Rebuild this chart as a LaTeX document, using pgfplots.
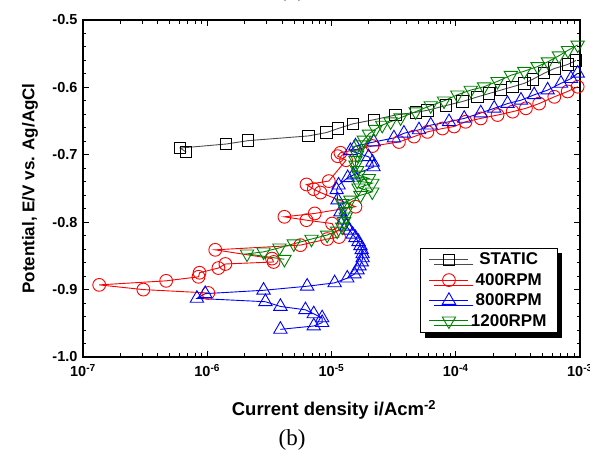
\documentclass[border=0pt]{standalone}
\usepackage{fontspec}
\setmainfont{Liberation Sans}
\newfontfamily\timesfont{Liberation Serif}
\usepackage{pgfplots}
\pgfplotsset{compat=1.18}
\usetikzlibrary{shadows}

\definecolor{myred}{RGB}{255,0,0}
\definecolor{myblue}{RGB}{0,0,255}
\definecolor{mygreen}{RGB}{0,128,0}

\pgfplotstableread{
x y
6.77e-7 -0.696
6.06e-7 -0.690
1.42e-6 -0.684
2.13e-6 -0.679
6.53e-6 -0.672
9.12e-6 -0.667
1.13e-5 -0.661
1.49e-5 -0.654
2.19e-5 -0.648
3.28e-5 -0.641
4.76e-5 -0.637
5.91e-5 -0.634
8.30e-5 -0.627
1.13e-4 -0.621
1.50e-4 -0.614
1.86e-4 -0.609
2.31e-4 -0.604
2.87e-4 -0.599
3.56e-4 -0.594
4.16e-4 -0.588
5.15e-4 -0.579
6.21e-4 -0.572
7.96e-4 -0.566
9.28e-4 -0.560
}\tstatic

\pgfplotstableread{
x y
1.02e-6 -0.905
3.06e-7 -0.900
1.35e-7 -0.893
4.67e-7 -0.887
8.51e-7 -0.881
8.67e-7 -0.875
1.23e-6 -0.868
1.40e-6 -0.862
3.42e-6 -0.859
3.32e-6 -0.854
1.16e-6 -0.841
5.62e-6 -0.834
9.23e-6 -0.825
1.15e-5 -0.822
1.01e-5 -0.802
6.29e-6 -0.797
4.18e-6 -0.792
7.33e-6 -0.787
1.56e-5 -0.777
8.15e-6 -0.756
7.20e-6 -0.751
6.29e-6 -0.744
9.51e-6 -0.739
1.31e-5 -0.708
1.12e-5 -0.702
1.18e-5 -0.697
2.14e-5 -0.687
3.49e-5 -0.681
4.61e-5 -0.673
5.91e-5 -0.666
7.81e-5 -0.661
9.69e-5 -0.658
1.20e-4 -0.651
1.59e-4 -0.646
2.17e-4 -0.641
2.87e-4 -0.636
3.67e-4 -0.631
4.69e-4 -0.624
6.21e-4 -0.614
7.96e-4 -0.606
9.58e-4 -0.599
}\tfour

\pgfplotstableread{
x y
3.88e-6 -0.959
7.20e-6 -0.954
8.41e-6 -0.949
8.41e-6 -0.942
7.20e-6 -0.936
6.17e-6 -0.930
3.88e-6 -0.925
2.94e-6 -0.918
8.26e-7 -0.913
9.63e-7 -0.906
2.84e-6 -0.901
6.37e-6 -0.895
1.06e-5 -0.890
1.34e-5 -0.883
1.53e-5 -0.877
1.62e-5 -0.871
1.68e-5 -0.865
1.75e-5 -0.859
1.78e-5 -0.853
1.78e-5 -0.847
1.75e-5 -0.841
1.71e-5 -0.835
1.65e-5 -0.829
1.56e-5 -0.823
1.48e-5 -0.818
1.40e-5 -0.812
1.32e-5 -0.806
1.25e-5 -0.797
1.18e-5 -0.785
1.12e-5 -0.767
1.10e-5 -0.752
1.14e-5 -0.745
1.35e-5 -0.734
1.50e-5 -0.730
2.18e-5 -0.718
2.14e-5 -0.711
1.99e-5 -0.703
1.42e-5 -0.694
1.56e-5 -0.687
2.19e-5 -0.681
3.18e-5 -0.675
3.83e-5 -0.668
5.06e-5 -0.663
6.29e-5 -0.656
8.83e-5 -0.651
1.17e-4 -0.646
1.59e-4 -0.638
2.04e-4 -0.631
2.61e-4 -0.624
3.35e-4 -0.619
4.28e-4 -0.611
5.49e-4 -0.604
7.03e-4 -0.594
8.46e-4 -0.587
9.58e-4 -0.579
}\teight

\pgfplotstableread{
x y
4.18e-6 -0.855
2.09e-6 -0.847
2.84e-6 -0.844
3.81e-6 -0.838
4.97e-6 -0.832
6.90e-6 -0.825
9.23e-6 -0.819
1.11e-5 -0.813
1.22e-5 -0.807
1.26e-5 -0.799
1.30e-5 -0.792
1.30e-5 -0.784
1.26e-5 -0.777
1.22e-5 -0.772
1.42e-5 -0.767
1.71e-5 -0.760
2.13e-5 -0.755
1.65e-5 -0.749
2.13e-5 -0.742
1.61e-5 -0.739
2.00e-5 -0.735
1.65e-5 -0.730
1.61e-5 -0.723
1.56e-5 -0.715
1.56e-5 -0.708
1.61e-5 -0.700
1.66e-5 -0.693
1.71e-5 -0.685
1.82e-5 -0.678
2.00e-5 -0.669
2.26e-5 -0.662
2.56e-5 -0.656
2.99e-5 -0.651
3.60e-5 -0.645
4.76e-5 -0.636
6.29e-5 -0.627
8.05e-5 -0.620
1.03e-4 -0.611
1.32e-4 -0.604
1.69e-4 -0.599
2.17e-4 -0.591
2.78e-4 -0.582
3.56e-4 -0.576
4.56e-4 -0.569
5.52e-4 -0.562
6.77e-4 -0.553
8.00e-4 -0.545
9.58e-4 -0.537
}\ttwelve

\begin{document}
\begin{tikzpicture}
\path[use as bounding box] (-83bp,-96bp) rectangle (507bp,357bp);
\begin{axis}[
  at={(0,0)}, anchor=south west,
  scale only axis, width=497bp, height=337bp,
  xmode=log, xmin=1e-7, xmax=1e-3, ymin=-1.0, ymax=-0.5,
  ytick={-1.0,-0.9,-0.8,-0.7,-0.6,-0.5},
  yticklabels={-1.0,-0.9,-0.8,-0.7,-0.6,-0.5},
  minor y tick num=4,
  xtick={1e-7,1e-6,1e-5,1e-4,1e-3},
  xticklabels={10\textsuperscript{-7},10\textsuperscript{-6},10\textsuperscript{-5},10\textsuperscript{-4},10\textsuperscript{-3}},
  tick align=inside,
  major tick length=6bp, minor tick length=3.5bp,
  axis line style={line width=1.3bp},
  every tick/.style={black, line width=1bp},
  ticklabel style={font=\bfseries\fontsize{14.5bp}{16bp}\selectfont},
  xticklabel style={yshift=-4bp},
  yticklabel style={xshift=-2bp},
  clip=true,
  legend cell align=center,
  legend style={at={(0.9557,0.0712)}, anchor=south east, draw=black, line width=1bp,
    fill=white, drop shadow={shadow xshift=5bp, shadow yshift=-5bp, fill=black, opacity=1},
    font=\bfseries\fontsize{17bp}{19bp}\selectfont, row sep=0bp,
    inner xsep=9bp, inner ysep=1.5bp,
    nodes={inner ysep=3.5bp},
    /tikz/every even column/.append style={column sep=5bp}},
  legend image code/.code={\draw[mark repeat=2,mark phase=2] plot coordinates {(0bp,0bp) (19.5bp,0bp) (39bp,0bp)};},
]
\addplot[black!70, line width=0.9bp, mark=square, mark size=5.7bp, mark options={draw=black, fill=white, line width=0.9bp, solid}] table {\tstatic};
\addlegendentry{STATIC}
\addplot[myred, line width=0.9bp, mark=o, mark size=6.4bp, mark options={fill=white, line width=0.9bp, solid}] table {\tfour};
\addlegendentry{400RPM}
\addplot[myblue, line width=0.9bp, mark=triangle, mark size=7.7bp, mark options={fill=white, line width=0.9bp, solid}] table {\teight};
\addlegendentry{800RPM}
\addplot[mygreen, line width=0.9bp, mark=triangle, mark size=7.7bp, mark options={rotate=180, fill=white, line width=0.9bp, solid}] table {\ttwelve};
\addlegendentry{1200RPM}
\end{axis}
\node[font=\bfseries\fontsize{18.5bp}{20bp}\selectfont] at (251bp,-53bp) {Current density i/Acm\textsuperscript{-2}};
\node[font=\bfseries\fontsize{17bp}{19bp}\selectfont, rotate=90] at (-53bp,168.5bp) {Potential, E/V vs. Ag/AgCl};
\node[font=\timesfont\fontsize{23bp}{25bp}\selectfont] at (209bp,-83bp) {(b)};
\node[font=\timesfont\fontsize{23bp}{25bp}\selectfont, anchor=south] at (209bp,352bp) {(b)};
\end{tikzpicture}
\end{document}
